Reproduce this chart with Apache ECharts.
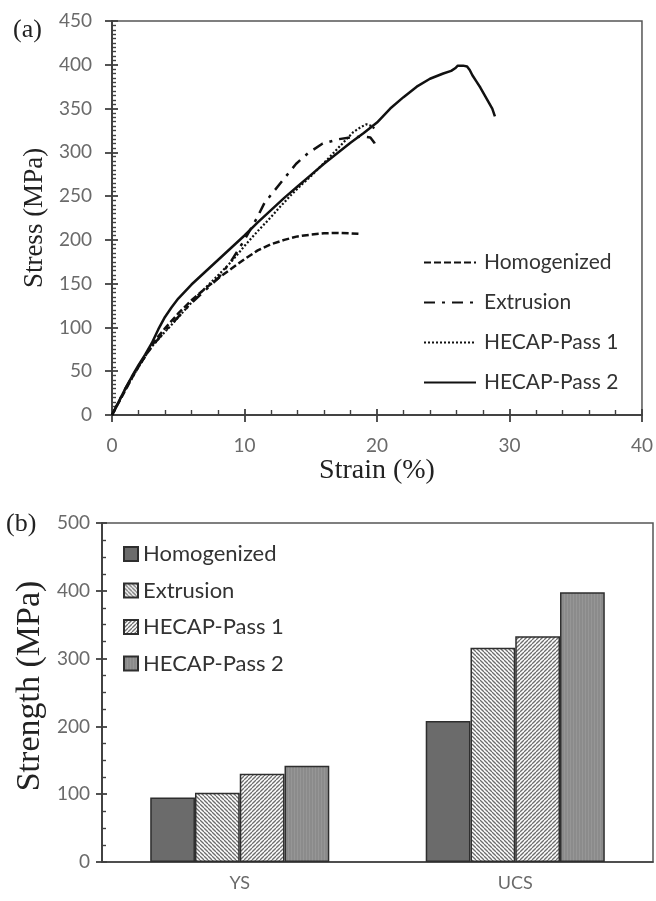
<!DOCTYPE html>
<html>
<head>
<meta charset="utf-8">
<script src="https://cdn.jsdelivr.net/npm/echarts@6/dist/echarts.min.js"></script>
<style>
html,body{margin:0;padding:0;background:#fff;}
#c{width:656px;height:901px;}
</style>
</head>
<body>
<div id="c"></div>
<script>
// ---------- Data: panel (a) stress-strain curves ----------
const strainHomog = [0,0.5,1,1.5,2,2.5,3,3.5,4,5,6,7,8,9,10,11,12,13,14,15,16,17,18,18.6];
const stressHomog = [0,14,28,42,55,67,79,90,99,116,131,144,156,167,178,188,195,200,204,206,207.5,208,207.5,207];

const strainExtr = [0,1,2,3,4,5,6,7,8,9,10,10.9,11.5,12.3,13.1,13.9,14.8,15.9,17.1,18,19,19.5,19.8,19.95];
const stressExtr = [0,30,56,78,96,112,128,142,156,176,200,224,242,257,272,287,299,310,315,317,318,317,311,305];

const strainP1 = [0,1,2,2.5,3,4,4.8,5.5,6.5,7.5,8.3,9,10,11,12,12.7,13.5,14.3,14.9,16.2,17.2,18.2,18.8,19.2,19.6,19.9];
const stressP1 = [0,29,55,67,78,95,108,120,137,152,164,175,193,210,226,238,251,263,271,291,307,323,329,332,330,326];

const strainP2 = [0,0.5,1,1.5,2,2.5,3,3.5,4,4.5,5,6,7,8,9,10,11,12,13,14,15,16,17,18,19,20,21,22,23,24,25,25.6,25.9,26.1,26.5,26.8,27.0,27.2,27.35,27.5,27.65,27.8,27.95,28.1,28.25,28.4,28.55,28.7,28.9];
const stressP2 = [0,15,30,44,57,69,82,98,112,123,133,149,163,177,191,205,220,234,248,261,274,287,299,311,322,334,350,363,375,384,390,393,396,399,399,398,394,388,389,381,382,374,375,366,367,358,359,350,341];

const curveNames = ['Homogenized','Extrusion','HECAP-Pass 1','HECAP-Pass 2'];

// ---------- Data: panel (b) strengths ----------
const barCategories = ['YS','UCS'];
const barHomog = [95, 208];
const barExtr = [102, 316];
const barP1 = [130, 333];
const barP2 = [142, 398];

// ---------- helpers ----------
function zip(a,b){ return a.map((v,i)=>[v,b[i]]); }
function hatch(dir){
  const s = 4, c = document.createElement('canvas');
  c.width = s; c.height = s;
  const g = c.getContext('2d');
  g.fillStyle = '#ffffff'; g.fillRect(0,0,s,s);
  g.strokeStyle = '#6e6e6e'; g.lineWidth = 1.3;
  for (let k=-1;k<=1;k++){
    g.beginPath();
    if (dir === 'back'){ g.moveTo(k*s,0); g.lineTo(k*s+s,s); }
    else { g.moveTo(k*s+s,0); g.lineTo(k*s,s); }
    g.stroke();
  }
  return {image:c, repeat:'repeat'};
}
function stripes(){
  const c = document.createElement('canvas');
  c.width = 3; c.height = 3;
  const g = c.getContext('2d');
  g.fillStyle = '#8b8b8b'; g.fillRect(0,0,3,3);
  g.fillStyle = '#969696'; g.fillRect(0,0,1,3);
  return {image:c, repeat:'repeat'};
}

const axisCol = '#404040';
const tickFont = {fontFamily:'Lato', fontSize:19, color:'#6a6a6a'};
const serif = 'Liberation Serif';
function tl(w){ return {color:axisCol, width:w}; }

const chart = echarts.init(document.getElementById('c'), null, {renderer:'canvas'});
chart.setOption({
  animation:false,
  backgroundColor:'#fff',
  grid:[
    {left:112, top:21, right:14, bottom:486, show:true, borderColor:'#555', borderWidth:1.5},
    {left:102, top:523, right:3, bottom:39, show:true, borderColor:'#555', borderWidth:1.5}
  ],
  xAxis:[
    {gridIndex:0, type:'value', min:0, max:40, interval:10, position:'bottom',
     name:'Strain (%)', nameLocation:'middle', nameGap:42,
     nameTextStyle:{fontFamily:serif, fontSize:28, color:'#222'},
     axisLine:{show:true, onZero:false, lineStyle:tl(1.6)},
     axisTick:{show:true, inside:false, length:7, lineStyle:tl(1.8)},
     axisLabel:Object.assign({show:true, margin:21}, tickFont),
     splitLine:{show:false}},
    {gridIndex:0, type:'value', min:0, max:40, interval:10, position:'bottom',
     axisLine:{show:true, onZero:false, lineStyle:tl(1.6)}, axisLabel:{show:false}, splitLine:{show:false},
     axisTick:{show:true, inside:true, length:6, lineStyle:tl(1.8)},
     minorTick:{show:true, splitNumber:5, length:5, lineStyle:tl(1.4)}},
    {gridIndex:1, type:'category', data:barCategories, position:'bottom',
     axisLine:{show:true, lineStyle:tl(1.6)},
     axisTick:{show:false},
     axisLabel:Object.assign({margin:12}, tickFont, {fontSize:18})}
  ],
  yAxis:[
    {gridIndex:0, type:'value', min:0, max:450, interval:50, position:'left',
     name:'Stress (MPa)', nameLocation:'middle', nameGap:64,
     nameTextStyle:{fontFamily:serif, fontSize:27, color:'#222'},
     axisLine:{show:true, onZero:false, lineStyle:tl(1.6)},
     axisTick:{show:true, inside:false, length:7, lineStyle:tl(1.8)},
     axisLabel:Object.assign({show:true, margin:20}, tickFont),
     splitLine:{show:false}},
    {gridIndex:0, type:'value', min:0, max:450, interval:50, position:'left',
     axisLine:{show:true, onZero:false, lineStyle:tl(1.6)}, axisLabel:{show:false}, splitLine:{show:false},
     axisTick:{show:true, inside:true, length:6, lineStyle:tl(1.8)},
     minorTick:{show:true, splitNumber:10, length:4, lineStyle:tl(1.4)}},
    {gridIndex:1, type:'value', min:0, max:500, interval:100, position:'left',
     axisLine:{show:true, onZero:false, lineStyle:tl(1.6)},
     axisTick:{show:true, inside:false, length:6, lineStyle:tl(1.8)},
     axisLabel:Object.assign({show:true, margin:12}, tickFont),
     splitLine:{show:false}},
    {gridIndex:1, type:'value', min:0, max:500, interval:100, position:'left',
     axisLine:{show:true, onZero:false, lineStyle:tl(1.6)}, axisLabel:{show:false}, splitLine:{show:false},
     axisTick:{show:true, inside:true, length:5, lineStyle:tl(1.8)},
     minorTick:{show:true, splitNumber:4, length:4, lineStyle:tl(1.4)}}
  ],
  legend:[
    {orient:'vertical', left:423, top:252, padding:0, itemWidth:52, itemHeight:14, itemGap:19,
     data:curveNames, itemStyle:{opacity:0},
     textStyle:{fontFamily:'Lato', fontSize:21, lineHeight:20, color:'#333', padding:[0,0,0,3]}},
    {orient:'vertical', left:123, top:543, padding:0, itemWidth:14, itemHeight:14, itemGap:14.5,
     data:curveNames.map(n=>n+' '), icon:'rect',
     textStyle:{fontFamily:'Lato', fontSize:22, lineHeight:21, color:'#333'}}
  ],
  graphic:[
    {type:'text', left:13, top:17, style:{text:'(a)', font:'26px "Liberation Serif"', fill:'#222'}},
    {type:'text', left:6, top:511, style:{text:'(b)', font:'26px "Liberation Serif"', fill:'#222'}},
    {type:'text', x:30, y:686, rotation:Math.PI/2,
     style:{text:'Strength (MPa)', font:'34px "Liberation Serif"', fill:'#222', align:'center', verticalAlign:'middle'}}
  ],
  series:[
    {name:curveNames[0], type:'line', xAxisIndex:0, yAxisIndex:0, symbol:'none',
     data:zip(strainHomog, stressHomog),
     lineStyle:{color:'#111', width:2.5, type:[7,3]}, itemStyle:{color:'#111'}},
    {name:curveNames[1], type:'line', xAxisIndex:0, yAxisIndex:0, symbol:'none',
     data:zip(strainExtr, stressExtr),
     lineStyle:{color:'#111', width:2.5, type:[11,7,3,7]}, itemStyle:{color:'#111'}},
    {name:curveNames[2], type:'line', xAxisIndex:0, yAxisIndex:0, symbol:'none',
     data:zip(strainP1, stressP1),
     lineStyle:{color:'#111', width:2.2, type:[2,2]}, itemStyle:{color:'#111'}},
    {name:curveNames[3], type:'line', xAxisIndex:0, yAxisIndex:0, symbol:'none',
     data:zip(strainP2, stressP2),
     lineStyle:{color:'#111', width:2.5, type:'solid'}, itemStyle:{color:'#111'}},

    {name:curveNames[0]+' ', type:'bar', xAxisIndex:2, yAxisIndex:2, data:barHomog,
     barGap:'0%', barCategoryGap:'35%',
     itemStyle:{color:'#6b6b6b', borderColor:'#2e2e2e', borderWidth:1.5}},
    {name:curveNames[1]+' ', type:'bar', xAxisIndex:2, yAxisIndex:2, data:barExtr,
     barGap:'0%', barCategoryGap:'35%',
     itemStyle:{color:hatch('back'), borderColor:'#2e2e2e', borderWidth:1.5}},
    {name:curveNames[2]+' ', type:'bar', xAxisIndex:2, yAxisIndex:2, data:barP1,
     barGap:'0%', barCategoryGap:'35%',
     itemStyle:{color:hatch('fwd'), borderColor:'#2e2e2e', borderWidth:1.5}},
    {name:curveNames[3]+' ', type:'bar', xAxisIndex:2, yAxisIndex:2, data:barP2,
     barGap:'0%', barCategoryGap:'35%',
     itemStyle:{color:stripes(), borderColor:'#2e2e2e', borderWidth:1.5}}
  ]
});
</script>
</body>
</html>
